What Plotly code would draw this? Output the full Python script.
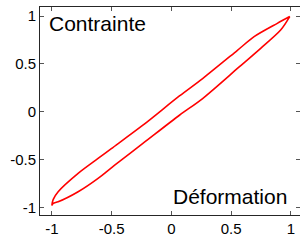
import plotly.graph_objects as go

# Loop branches
upper_x = [-1.0, -0.989, -0.948, -0.781, -0.614, -0.503, -0.239, 0.067, 0.261, 0.55, 0.692, 0.886, 0.99]
upper_y = [-0.975, -0.917, -0.837, -0.645, -0.489, -0.386, -0.141, 0.165, 0.347, 0.64, 0.785, 0.924, 0.995]
lower_x = [-1.0, -0.989, -0.948, -0.781, -0.614, -0.475, -0.239, 0.067, 0.261, 0.567, 0.747, 0.914, 0.99]
lower_y = [-0.975, -0.958, -0.942, -0.837, -0.697, -0.558, -0.332, -0.037, 0.138, 0.468, 0.663, 0.854, 0.995]

tick_vals = [-1, -0.5, 0, 0.5, 1]
tick_text = ["-1", "-0.5", "0", "0.5", "1"]

loop_x = upper_x + lower_x[::-1]
loop_y = upper_y + lower_y[::-1]

fig = go.Figure()
fig.add_trace(go.Scatter(x=loop_x, y=loop_y, mode="lines",
                         line=dict(color="#ff0000", width=1.6, shape="spline", smoothing=0.8),
                         showlegend=False, hoverinfo="skip"))

axis_common = dict(
    showgrid=False, zeroline=False, showline=True, mirror="ticks",
    linecolor="#262626", linewidth=1, ticks="inside", ticklen=4,
    tickcolor="#555555", tickwidth=1, automargin=False,
    tickvals=tick_vals, ticktext=tick_text,
    tickfont=dict(family="Liberation Sans, Arial", size=15, color="#000000"),
)
fig.update_xaxes(range=[-1.1, 1.076], **axis_common)
fig.update_yaxes(range=[-1.08, 1.095], **axis_common)

fig.add_annotation(x=-1.042, y=0.924, xref="x", yref="y", text="Contrainte",
                   showarrow=False, xanchor="left", yanchor="middle",
                   font=dict(family="Liberation Sans, Arial", size=21, color="#000000"))
fig.add_annotation(x=0.983, y=-0.882, xref="x", yref="y", text="Déformation",
                   showarrow=False, xanchor="right", yanchor="middle",
                   font=dict(family="Liberation Sans, Arial", size=21, color="#000000"))

fig.update_layout(
    width=300, height=241,
    margin=dict(l=40, r=0, t=7, b=26),
    paper_bgcolor="white", plot_bgcolor="white",
)
fig.write_html("out.html", config={"displayModeBar": False, "staticPlot": True},
               post_script="document.body.style.margin='0';document.body.style.overflow='hidden';")
